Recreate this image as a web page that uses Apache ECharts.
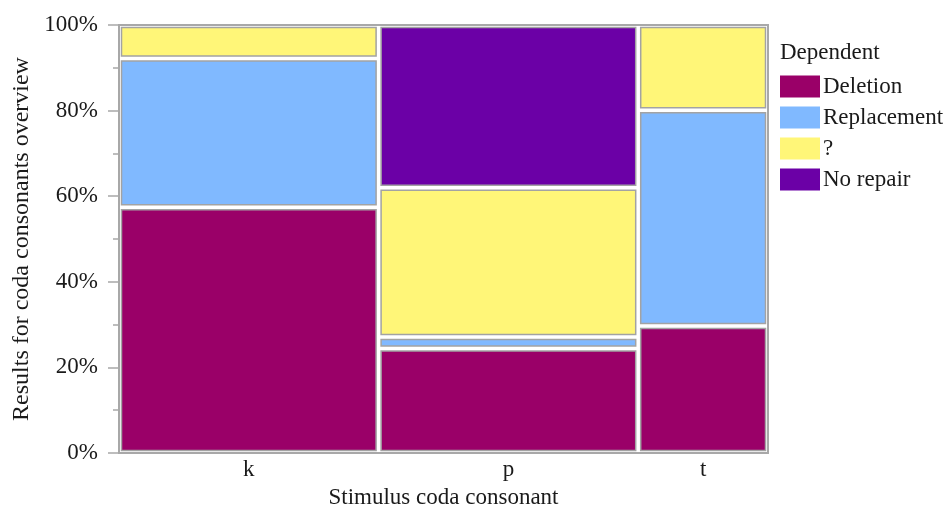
<!DOCTYPE html>
<html><head><meta charset="utf-8">
<script src="https://cdn.jsdelivr.net/npm/echarts@6/dist/echarts.min.js"></script>
<style>html,body{margin:0;padding:0;background:#fff}#c{width:949px;height:507px}</style>
</head><body><div id="c"></div>
<script>
const categories = ['k', 'p', 't'];
const colWidths = [40, 40, 20];           // share of total (%)
const seriesNames = ['Deletion', 'Replacement', '?', 'No repair'];
const deletion = [57.4, 24.4, 29.7];
const replacement = [34.8, 2.7, 50.4];
const question = [7.8, 34.9, 19.9];
const noRepair = [0, 38.0, 0];
const yTicks = [0, 20, 40, 60, 80, 100];
const colors = ['#9A0068', '#80B9FF', '#FFF678', '#6B00A6'];

const values = [deletion, replacement, question, noRepair];
const colStart = [];
let acc = 0;
colWidths.forEach(w => { colStart.push(acc); acc += w; });
const centers = colStart.map((s, i) => s + colWidths[i] / 2);

const FONT = '"Liberation Serif", "DejaVu Serif", serif';
const INSET = 2.5;

function buildData(si) {
  const out = [];
  categories.forEach((c, ci) => {
    let base = 0;
    for (let k = 0; k < si; k++) base += values[k][ci];
    const v = values[si][ci];
    if (v > 0) out.push([colStart[ci], colStart[ci] + colWidths[ci], base, base + v]);
  });
  return out;
}

function renderItem(params, api) {
  const p0 = api.coord([api.value(0), api.value(2)]);
  const p1 = api.coord([api.value(1), api.value(3)]);
  const x = p0[0] + INSET, y = p1[1] + INSET;
  const w = p1[0] - p0[0] - 2 * INSET, h = p0[1] - p1[1] - 2 * INSET;
  return {
    type: 'rect',
    shape: { x: x, y: y, width: Math.max(w, 0), height: Math.max(h, 0) },
    style: { fill: api.visual('color'), stroke: '#a3a3a3', lineWidth: 1.5 }
  };
}

const chart = echarts.init(document.getElementById('c'));
chart.setOption({
  animation: false,
  backgroundColor: '#fff',
  title: {
    text: 'Dependent', left: 775, top: 36,
    textStyle: { fontFamily: FONT, fontSize: 23, fontWeight: 'normal', color: '#1a1a1a' }
  },
  legend: {
    orient: 'vertical', left: 775, top: 70,
    itemWidth: 40, itemHeight: 22, itemGap: 8,
    icon: 'rect',
    data: seriesNames,
    textStyle: { fontFamily: FONT, fontSize: 23, lineHeight: 22, color: '#1a1a1a', padding: [0, 0, 0, -2] }
  },
  grid: { left: 119, right: 181, top: 25, bottom: 54, show: true, borderColor: '#a8a8a8', borderWidth: 2, outerBoundsMode: 'none', containLabel: false },
  xAxis: {
    type: 'value', min: 0, max: 100, interval: 10,
    name: 'Stimulus coda consonant', nameLocation: 'middle', nameGap: 33,
    nameTextStyle: { fontFamily: FONT, fontSize: 23, color: '#1a1a1a' },
    axisLine: { show: true, lineStyle: { color: '#a8a8a8', width: 2 } },
    axisTick: { show: false },
    splitLine: { show: false },
    axisLabel: {
      margin: 5, fontFamily: FONT, fontSize: 23, color: '#1a1a1a', showMinLabel: true, showMaxLabel: true,
      formatter: v => { const i = centers.findIndex(c => Math.abs(c - v) < 0.01); return i >= 0 ? categories[i] : ''; }
    }
  },
  yAxis: {
    type: 'value', min: 0, max: 100, interval: 20,
    name: 'Results for coda consonants overview', nameLocation: 'middle', nameGap: 84,
    nameTextStyle: { fontFamily: FONT, fontSize: 24, color: '#1a1a1a' },
    axisLine: { show: true, lineStyle: { color: '#a8a8a8', width: 2 } },
    axisTick: { show: true, length: 11, lineStyle: { color: '#a8a8a8', width: 1.5 } },
    minorTick: { show: true, splitNumber: 2, length: 6, lineStyle: { color: '#a8a8a8', width: 1.5 } },
    splitLine: { show: false },
    axisLabel: {
      margin: 21, fontFamily: FONT, fontSize: 23, color: '#1a1a1a',
      formatter: v => yTicks.includes(v) ? v + '%' : ''
    }
  },
  series: seriesNames.map((n, si) => ({
    name: n, type: 'custom', renderItem: renderItem,
    itemStyle: { color: colors[si] },
    encode: { x: [0, 1], y: [2, 3] },
    data: buildData(si)
  }))
});
</script></body></html>
